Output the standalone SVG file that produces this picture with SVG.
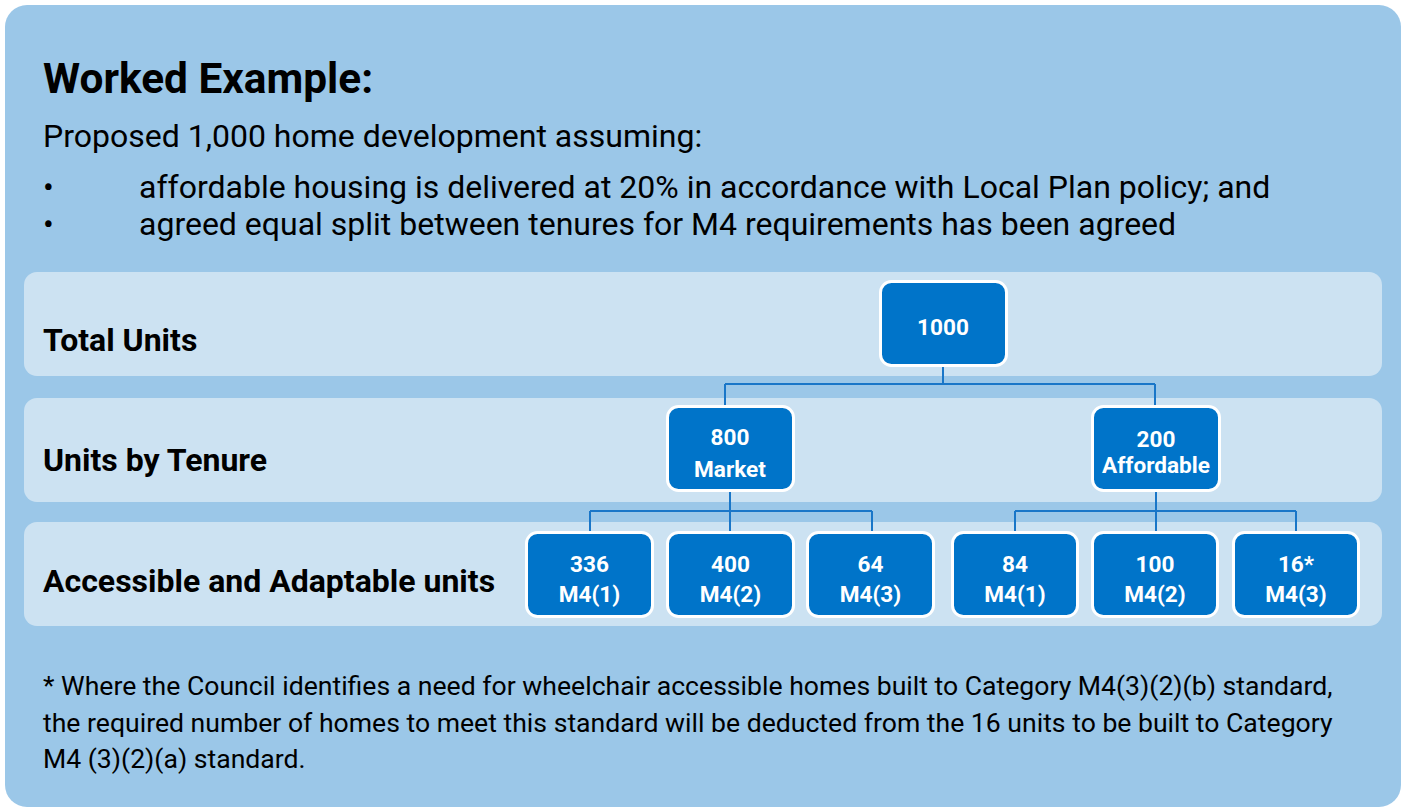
<svg xmlns="http://www.w3.org/2000/svg" width="1403" height="809" viewBox="0 0 1403 809">
<style>
.t{font-family:Roboto,"Liberation Sans",sans-serif;fill:#000}
.b{font-weight:bold}
.band{fill:#cce2f2}
.box{fill:#0074c9;stroke:#fff;stroke-width:3}
.bt{font-family:Roboto,"Liberation Sans",sans-serif;font-weight:bold;font-size:22.6px;fill:#fff;text-anchor:middle}
.con{fill:none;stroke:#1976c8;stroke-width:2}
</style>
<rect width="1403" height="809" fill="#fff"/>
<rect x="5" y="5" width="1396" height="802" rx="22" fill="#9bc7e8"/>
<text class="t b" x="43" y="93" font-size="42.4">Worked Example:</text>
<text class="t" x="43" y="147" font-size="32">Proposed 1,000 home development assuming:</text>
<text class="t" x="43" y="198" font-size="32">•</text>
<text class="t" x="139" y="198" font-size="32">affordable housing is delivered at 20% in accordance with Local Plan policy; and</text>
<text class="t" x="43" y="235" font-size="32">•</text>
<text class="t" x="139" y="235" font-size="32">agreed equal split between tenures for M4 requirements has been agreed</text>
<rect class="band" x="24" y="272" width="1358" height="104" rx="13"/>
<rect class="band" x="24" y="398" width="1358" height="104" rx="13"/>
<rect class="band" x="24" y="522" width="1358" height="104" rx="13"/>
<text class="t b" x="43" y="351" font-size="32">Total Units</text>
<text class="t b" x="43" y="471" font-size="32">Units by Tenure</text>
<text class="t b" x="43" y="592" font-size="32">Accessible and Adaptable units</text>
<g id="connectors">
<path class="con" d="M943 366V384M725 384H1155M725 384V406M1155 384V406"/>
<path class="con" d="M730 491V532M590 511H872M590 511V532M872 511V532"/>
<path class="con" d="M1156 491V532M1015 511H1296M1015 511V532M1296 511V532"/>
</g>
<g id="n1000"><rect class="box" x="880.5" y="281.5" width="126" height="84" rx="11"/><text class="bt" x="943" y="335">1000</text></g>
<g id="n800"><rect class="box" x="667.5" y="406.5" width="126" height="84" rx="11"/><text class="bt" x="730" y="445">800</text><text class="bt" x="730" y="477">Market</text></g>
<g id="n200"><rect class="box" x="1092.5" y="406.5" width="127" height="84" rx="11"/><text class="bt" x="1156" y="447">200</text><text class="bt" x="1156" y="473">Affordable</text></g>
<g id="n336"><rect class="box" x="526.5" y="532.5" width="126" height="84" rx="11"/><text class="bt" x="589.5" y="572">336</text><text class="bt" x="589.5" y="602">M4(1)</text></g>
<g id="n400"><rect class="box" x="667.5" y="532.5" width="126" height="84" rx="11"/><text class="bt" x="730.5" y="572">400</text><text class="bt" x="730.5" y="602">M4(2)</text></g>
<g id="n64"><rect class="box" x="807.5" y="532.5" width="126" height="84" rx="11"/><text class="bt" x="870.5" y="572">64</text><text class="bt" x="870.5" y="602">M4(3)</text></g>
<g id="n84"><rect class="box" x="952.5" y="532.5" width="125" height="84" rx="11"/><text class="bt" x="1015" y="572">84</text><text class="bt" x="1015" y="602">M4(1)</text></g>
<g id="n100"><rect class="box" x="1092.5" y="532.5" width="125" height="84" rx="11"/><text class="bt" x="1155" y="572">100</text><text class="bt" x="1155" y="602">M4(2)</text></g>
<g id="n16"><rect class="box" x="1233.5" y="532.5" width="125" height="84" rx="11"/><text class="bt" x="1296" y="572">16*</text><text class="bt" x="1296" y="602">M4(3)</text></g>
<text class="t" x="43" y="695" font-size="26.6">* Where the Council identifies a need for wheelchair accessible homes built to Category M4(3)(2)(b) standard,</text>
<text class="t" x="43" y="732" font-size="26.6">the required number of homes to meet this standard will be deducted from the 16 units to be built to Category</text>
<text class="t" x="43" y="768" font-size="26.6">M4 (3)(2)(a) standard.</text>
</svg>
